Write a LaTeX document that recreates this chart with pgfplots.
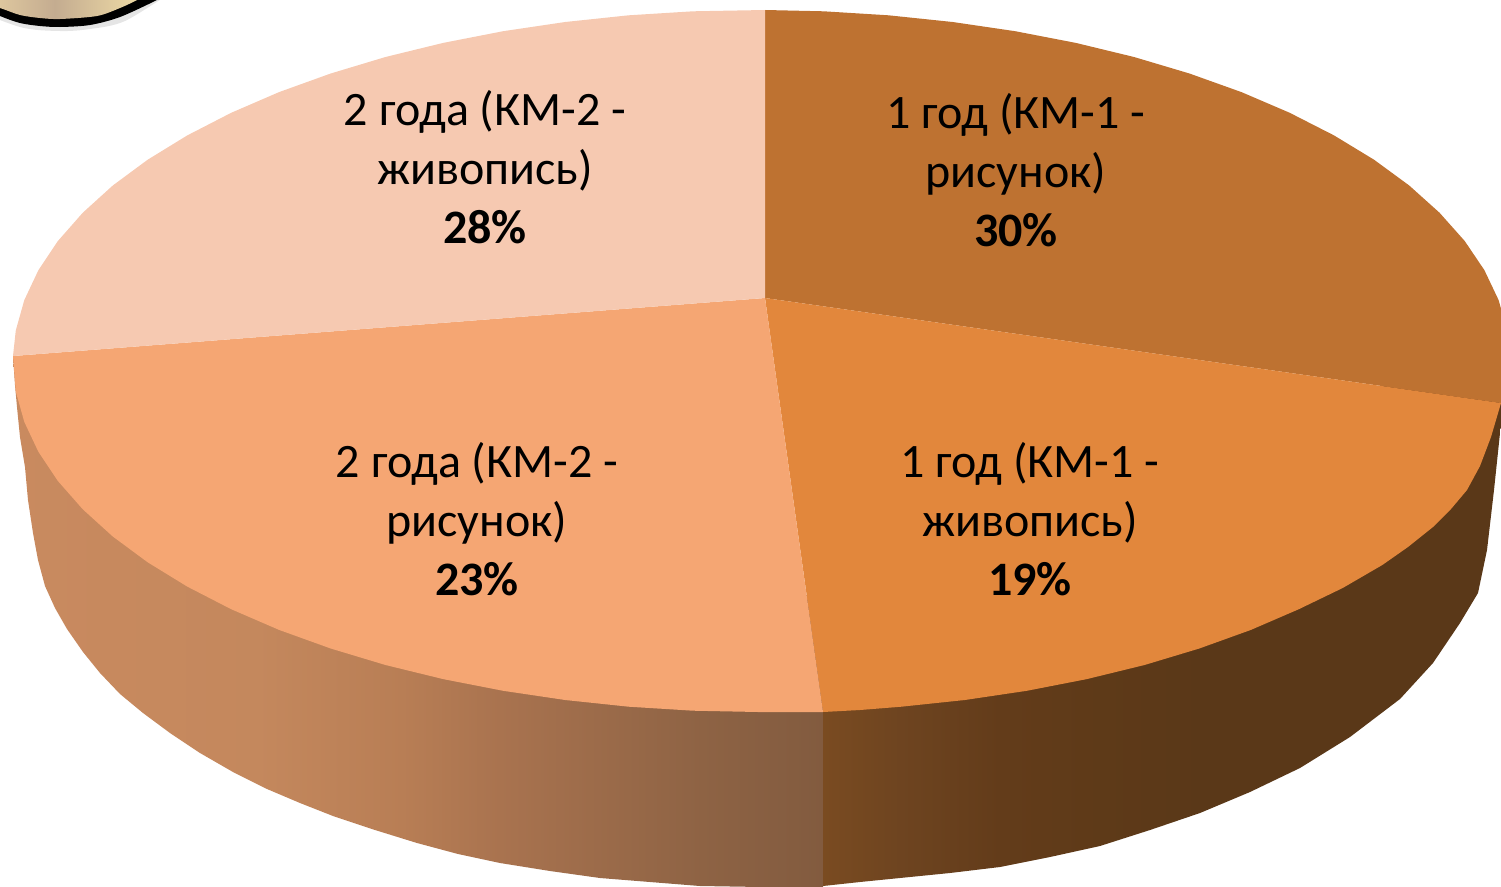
\documentclass[border=0pt]{standalone}
\usepackage{pgfplots}
\pgfplotsset{compat=1.18}
\usepackage{fontspec}
\setmainfont{Carlito}

\definecolor{kmonedraw}{HTML}{BE7231}
\definecolor{kmonepaint}{HTML}{E2873C}
\definecolor{kmtwodraw}{HTML}{F5A673}
\definecolor{kmtwopaint}{HTML}{F6C9B1}
\definecolor{photoa}{HTML}{EFD9A8}
\definecolor{photob}{HTML}{C4AC90}
\definecolor{photoc}{HTML}{F3E0A8}

% tikz maps 25bp..75bp of a shading onto the bounding box of the path
\pgfdeclarehorizontalshading{wallleft}{100bp}{
 rgb(0bp)=(0.788,0.541,0.373);
 rgb(25bp)=(0.788,0.541,0.373);
 rgb(40bp)=(0.769,0.533,0.365);
 rgb(49bp)=(0.722,0.494,0.333);
 rgb(55bp)=(0.663,0.451,0.310);
 rgb(67.5bp)=(0.557,0.388,0.267);
 rgb(75bp)=(0.510,0.357,0.247);
 rgb(100bp)=(0.510,0.357,0.247)}
\pgfdeclarehorizontalshading{wallright}{100bp}{
 rgb(0bp)=(0.478,0.294,0.129);
 rgb(25bp)=(0.478,0.294,0.129);
 rgb(30.7bp)=(0.431,0.267,0.125);
 rgb(38bp)=(0.388,0.235,0.102);
 rgb(45.4bp)=(0.369,0.227,0.094);
 rgb(52.8bp)=(0.353,0.220,0.094);
 rgb(100bp)=(0.353,0.220,0.094)}

\newcommand{\pielabel}[4]{\node[align=center,font=\fontsize{48}{59}\selectfont] at (axis cs:#1,#2) {#3\\#4};}

\begin{document}
\begin{tikzpicture}
\begin{axis}[
scale only axis, width=1501pt, height=886pt,
xmin=0, xmax=1501, ymin=0, ymax=886, y dir=reverse,
hide axis,
]
% photo fragment in the corner
\addplot[draw=none, smooth, fill=black!10] coordinates {(-40,4) (20,27) (60,31) (90,29) (125,21) (175,-10)};
\addplot[draw=none, smooth, fill=black] coordinates {(-40,-1) (0,16) (20,23) (40,26) (60,27) (90,25) (120,17) (157,0) (175,-10)};
\addplot[draw=none, smooth, left color=photoa, right color=photoc, middle color=photob] coordinates {(-40,-5) (0,8) (20,15) (40,18) (60,19) (97,16) (120,8) (137,0) (150,-8)};

% side wall
\addplot[draw=none, shading=wallleft, shading angle=0] coordinates {
(823,600) (13,356) (15,385) (17,407) (20,437) (25,467) (28,500) (33,533) (38,560) (45,586) (55,608) (67,629)
(83,652) (100,673) (120,694) (143,713) (170,733) (200,753) (233,772) (267,789) (300,803) (333,816) (375,830)
(417,843) (458,854) (500,863) (550,871) (600,878) (650,882) (700,886) (823,888)} --cycle;
\addplot[draw=none, shading=wallright, shading angle=0] coordinates {
(823,600) (823,886) (860,882) (900,878) (950,873) (1000,867) (1050,857) (1100,846) (1150,830) (1200,813) (1250,792)
(1300,768) (1350,737) (1400,699) (1433,663) (1460,623) (1478,593) (1487,550) (1494,490) (1500,433) (1505,403) (1505,340)} --cycle;

% top face: 30, 19, 23, 28 per cent
\addplot[draw=none, fill=kmonedraw] coordinates {
(765,298) (765,10) (823.6,11.3) (888.5,15.3) (952.6,22) (1015.2,31.2) (1075.8,42.9) (1134,57) (1189.4,73.5)
(1241.4,92.1) (1289.7,112.8) (1334,135.4) (1374,159.7) (1409.2,185.5) (1439.5,212.7) (1464.7,241) (1484.4,270.2)
(1498.6,300.1) (1507.1,330.4) (1510,361) (1505,403.6)} --cycle;
\addplot[draw=none, fill=kmonepaint] coordinates {
(765,298) (1505,403.6) (1501,403) (1491,437) (1480,466) (1467,490) (1451,509) (1433,527) (1408,547) (1382.3,565)
(1342.7,588) (1298.8,609.2) (1250.9,629.9) (1199.3,648.5) (1144.5,665) (1086.8,679.1) (1026.8,690.8) (964.8,700)
(901.3,706.7) (860,710) (823,712)} --cycle;
\addplot[draw=none, fill=kmtwodraw] coordinates {
(765,298) (823,712) (758,712) (693,710.7) (628.7,706.7) (565.2,700) (503.2,690.8) (443.2,679.1) (385.5,665)
(330.7,648.5) (279.1,629.9) (231.2,609.2) (187.3,586.6) (147.7,562.3) (112.8,536.5) (82.8,509.3) (57.9,481)
(38.4,451.8) (24.3,421.9) (15.8,391.6) (13,356)} --cycle;
\addplot[draw=none, fill=kmtwopaint] coordinates {
(765,298) (13,356) (15.8,330.4) (24.3,300.1) (38.4,270.2) (57.9,241) (82.8,212.7) (112.8,185.5) (147.7,159.7)
(187.3,135.4) (231.2,112.8) (279.1,92.1) (330.7,73.5) (385.5,57) (443.2,42.9) (503.2,31.2) (565.2,22) (628.7,15.3)
(693,11.3) (765,10)} --cycle;

\pielabel{1016}{170}{1 год (КМ-1 -\\рисунок)}{\textbf{30\%}}
\pielabel{1030}{519}{1 год (КМ-1 -\\живопись)}{\textbf{19\%}}
\pielabel{477}{519}{2 года (КМ-2 -\\рисунок)}{\textbf{23\%}}
\pielabel{485}{167}{2 года (КМ-2 -\\живопись)}{\textbf{28\%}}
\end{axis}
\end{tikzpicture}
\end{document}
